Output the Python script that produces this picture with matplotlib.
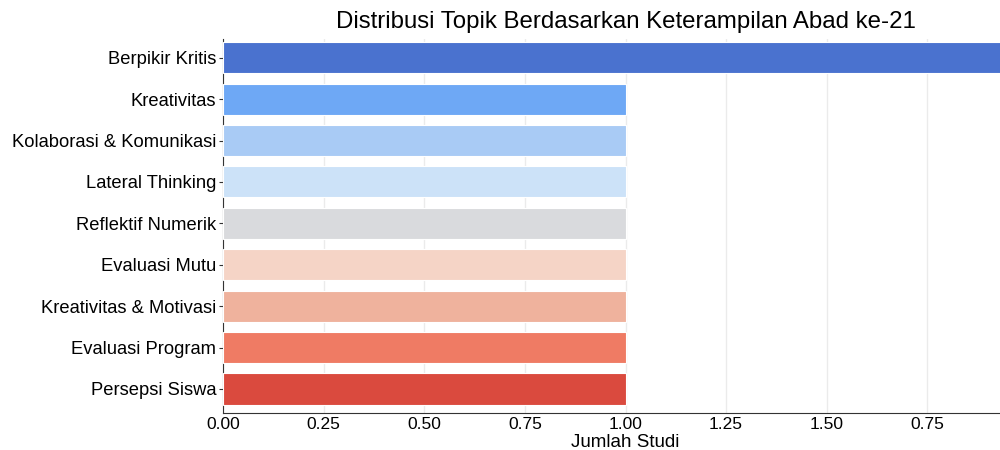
import matplotlib
matplotlib.use("Agg")
import matplotlib.pyplot as plt

categories = ["Berpikir Kritis", "Kreativitas", "Kolaborasi & Komunikasi", "Lateral Thinking",
              "Reflektif Numerik", "Evaluasi Mutu", "Kreativitas & Motivasi", "Evaluasi Program",
              "Persepsi Siswa"]
values = [2, 1, 1, 1, 1, 1, 1, 1, 1]
colors = ["#4a72cf", "#6ea8f5", "#a9cbf5", "#cce2f8", "#d9dadd", "#f5d4c6", "#efb29d", "#ef7b64", "#da4a3e"]
xticks = [0.0, 0.25, 0.5, 0.75, 1.0, 1.25, 1.5, 1.75]
xticklabels = ["0.00", "0.25", "0.50", "0.75", "1.00", "1.25", "1.50", "0.75"]

plt.rcParams['font.family'] = ['Liberation Sans', 'DejaVu Sans']
fig = plt.figure(figsize=(10, 4.5), dpi=100)
ax = fig.add_axes([0.223, 0.0822, 0.805, 0.831])
ypos = list(range(len(categories)))
ax.barh(ypos, values, height=0.75, color=colors, edgecolor="white", linewidth=0.8, zorder=3)
ax.set_yticks(ypos)
ax.set_yticklabels(categories, fontsize=13.2)
ax.set_ylim(len(categories) - 0.42, -0.45)
ax.set_xlim(0, 2.0)
ax.set_xticks(xticks)
ax.set_xticklabels(xticklabels, fontsize=12.5)
ax.set_xlabel("Jumlah Studi", fontsize=13.5, labelpad=1)
ax.grid(axis="x", color="#ebebeb", linewidth=1, zorder=0)
for s in ["top", "right"]:
    ax.spines[s].set_visible(False)
ax.spines["left"].set_color("#333333")
ax.spines["bottom"].set_color("#333333")
ax.tick_params(axis="y", length=3, color="#333333", pad=2)
ax.tick_params(axis="x", length=0, pad=3)
ax.set_title("Distribusi Topik Berdasarkan Keterampilan Abad ke-21", fontsize=17.3, pad=8)
fig.savefig("out.png", dpi=100)
